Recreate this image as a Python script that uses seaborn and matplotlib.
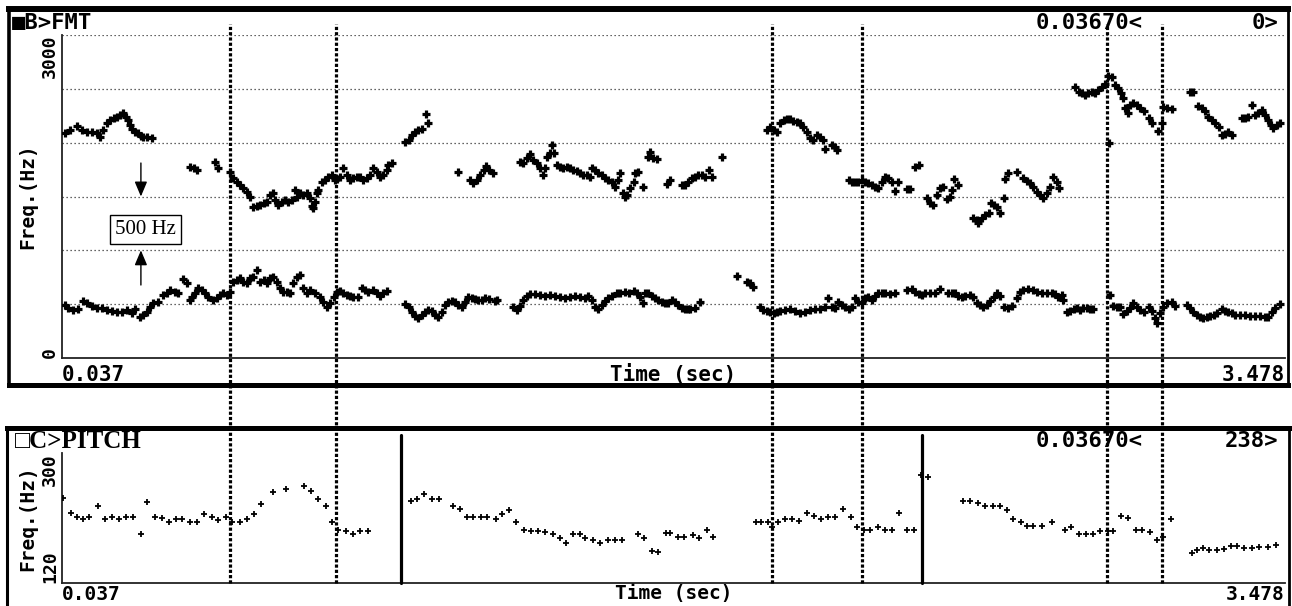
import numpy as np
import pandas as pd
import matplotlib
matplotlib.use("Agg")
import matplotlib.pyplot as plt
import seaborn as sns

# ---------------- data ----------------
time_range = (0.037, 3.478)
fmt_ylim = (0, 3000)
pitch_ylim = (120, 300)
grid_hz = [500, 1000, 1500, 2000, 2500, 3000]
cursor_times = [0.510, 0.808, 2.035, 2.288, 2.977, 3.132]
segment_times = [0.991, 2.457]

f1_time = [
    0.045, 0.055, 0.069, 0.083, 0.097, 0.106, 0.121, 0.135, 0.149, 0.163,
    0.177, 0.191, 0.205, 0.219, 0.233, 0.243, 0.257, 0.266, 0.275, 0.285,
    0.294, 0.308, 0.322, 0.332, 0.341, 0.355, 0.364, 0.378, 0.388, 0.397,
    0.402, 0.411, 0.421, 0.430, 0.439, 0.449, 0.463, 0.472, 0.482, 0.491,
    0.500, 0.510, 0.519, 0.529, 0.538, 0.547, 0.557, 0.566, 0.573, 0.585,
    0.594, 0.604, 0.613, 0.622, 0.632, 0.641, 0.650, 0.660, 0.669, 0.679,
    0.688, 0.697, 0.707, 0.716, 0.726, 0.735, 0.749, 0.763, 0.772, 0.782,
    0.791, 0.801, 0.810, 0.819, 0.829, 0.838, 0.847, 0.857, 0.871, 0.880,
    0.890, 0.899, 0.913, 0.922, 0.932, 0.941, 0.951, 1.002, 1.012, 1.021,
    1.030, 1.040, 1.049, 1.058, 1.068, 1.077, 1.087, 1.096, 1.105, 1.115,
    1.124, 1.133, 1.143, 1.152, 1.162, 1.171, 1.180, 1.190, 1.199, 1.208,
    1.218, 1.227, 1.237, 1.255, 1.260, 1.307, 1.316, 1.326, 1.335, 1.345,
    1.354, 1.368, 1.382, 1.396, 1.410, 1.424, 1.438, 1.452, 1.466, 1.481,
    1.495, 1.509, 1.518, 1.527, 1.537, 1.546, 1.556, 1.565, 1.574, 1.584,
    1.598, 1.607, 1.621, 1.631, 1.645, 1.654, 1.663, 1.671, 1.677, 1.687,
    1.696, 1.706, 1.715, 1.724, 1.734, 1.743, 1.753, 1.762, 1.771, 1.781,
    1.790, 1.799, 1.804, 1.818, 1.832, 1.935, 1.963, 1.973, 1.982, 2.001,
    2.010, 2.020, 2.029, 2.039, 2.048, 2.057, 2.071, 2.085, 2.099, 2.114,
    2.128, 2.142, 2.156, 2.170, 2.184, 2.191, 2.203, 2.212, 2.221, 2.231,
    2.240, 2.250, 2.259, 2.268, 2.278, 2.287, 2.296, 2.306, 2.315, 2.325,
    2.334, 2.343, 2.353, 2.367, 2.381, 2.414, 2.428, 2.437, 2.447, 2.456,
    2.465, 2.479, 2.493, 2.508, 2.531, 2.540, 2.550, 2.559, 2.568, 2.578,
    2.592, 2.601, 2.611, 2.620, 2.629, 2.639, 2.648, 2.658, 2.667, 2.676,
    2.686, 2.700, 2.709, 2.723, 2.733, 2.742, 2.756, 2.770, 2.779, 2.793,
    2.808, 2.822, 2.831, 2.840, 2.850, 2.854, 2.864, 2.873, 2.883, 2.892,
    2.901, 2.911, 2.920, 2.929, 2.939, 2.986, 2.995, 3.005, 3.014, 3.023,
    3.033, 3.042, 3.051, 3.061, 3.070, 3.080, 3.094, 3.103, 3.111, 3.117,
    3.126, 3.136, 3.145, 3.159, 3.169, 3.201, 3.211, 3.220, 3.230, 3.239,
    3.248, 3.258, 3.267, 3.277, 3.286, 3.300, 3.309, 3.319, 3.328, 3.337,
    3.352, 3.366, 3.380, 3.394, 3.408, 3.422, 3.431, 3.441, 3.450, 3.464,
]
f1_hz = [
    492, 461, 446, 452, 532, 514, 483, 461, 461, 446,
    440, 430, 430, 446, 415, 452, 384, 399, 430, 477,
    508, 523, 585, 601, 632, 616, 601, 731, 693, 539,
    570, 601, 647, 632, 601, 570, 539, 554, 585, 601,
    585, 616, 709, 724, 740, 709, 693, 740, 755, 817,
    709, 724, 693, 740, 755, 709, 647, 616, 616, 601,
    693, 755, 771, 647, 601, 632, 601, 570, 523, 477,
    508, 570, 616, 625, 601, 585, 576, 570, 570, 647,
    632, 616, 632, 601, 576, 601, 625, 502, 477, 430,
    390, 368, 399, 430, 446, 440, 399, 378, 430, 492,
    523, 532, 523, 492, 477, 523, 570, 554, 545, 539,
    539, 554, 545, 532, 539, 471, 446, 483, 539, 576,
    594, 594, 585, 576, 585, 576, 570, 554, 570, 576,
    563, 554, 576, 539, 477, 452, 492, 532, 554, 576,
    607, 601, 616, 607, 622, 601, 570, 514, 601, 601,
    576, 554, 539, 523, 514, 508, 539, 523, 492, 461,
    452, 452, 452, 461, 523, 762, 709, 700, 663, 477,
    446, 440, 430, 415, 430, 440, 446, 452, 440, 421,
    430, 446, 452, 452, 477, 554, 477, 461, 523, 492,
    477, 452, 477, 554, 523, 508, 554, 570, 539, 576,
    601, 607, 601, 594, 601, 632, 638, 616, 594, 585,
    607, 601, 607, 638, 607, 601, 601, 576, 563, 576,
    585, 570, 508, 492, 477, 492, 532, 570, 607, 576,
    477, 461, 483, 554, 616, 632, 638, 632, 616, 607,
    601, 601, 595, 564, 585, 539, 431, 440, 452, 461,
    446, 461, 461, 452, 452, 585, 483, 477, 471, 409,
    440, 461, 514, 477, 446, 431, 477, 440, 369, 328,
    415, 477, 508, 523, 483, 492, 461, 431, 400, 378,
    369, 384, 390, 400, 421, 452, 440, 431, 415, 400,
    400, 400, 390, 390, 390, 384, 384, 431, 461, 502,
]

f2_time = [
    0.397, 0.407, 0.416, 0.468, 0.475, 0.510, 0.519, 0.529, 0.538, 0.547,
    0.557, 0.566, 0.575, 0.585, 0.594, 0.604, 0.613, 0.622, 0.632, 0.636,
    0.646, 0.655, 0.665, 0.674, 0.683, 0.693, 0.697, 0.707, 0.716, 0.726,
    0.735, 0.740, 0.744, 0.749, 0.754, 0.758, 0.768, 0.777, 0.786, 0.796,
    0.805, 0.810, 0.819, 0.829, 0.838, 0.847, 0.857, 0.866, 0.876, 0.885,
    0.894, 0.904, 0.913, 0.922, 0.932, 0.941, 0.951, 0.955, 0.965, 1.152,
    1.185, 1.194, 1.204, 1.213, 1.223, 1.230, 1.239, 1.249, 1.326, 1.335,
    1.345, 1.354, 1.363, 1.373, 1.382, 1.390, 1.396, 1.401, 1.410, 1.415,
    1.421, 1.429, 1.438, 1.448, 1.457, 1.466, 1.476, 1.485, 1.495, 1.504,
    1.513, 1.523, 1.527, 1.537, 1.546, 1.556, 1.565, 1.574, 1.584, 1.593,
    1.600, 1.607, 1.615, 1.621, 1.626, 1.635, 1.645, 1.649, 1.659, 1.671,
    1.687, 1.692, 1.701, 1.710, 1.738, 1.748, 1.781, 1.790, 1.799, 1.809,
    1.818, 1.827, 1.837, 1.846, 1.856, 1.865, 1.893, 2.250, 2.259, 2.268,
    2.278, 2.287, 2.296, 2.306, 2.315, 2.325, 2.334, 2.343, 2.353, 2.362,
    2.372, 2.381, 2.390, 2.414, 2.423, 2.437, 2.447, 2.470, 2.479, 2.489,
    2.498, 2.508, 2.517, 2.526, 2.536, 2.540, 2.548, 2.557, 2.601, 2.611,
    2.615, 2.625, 2.634, 2.644, 2.651, 2.660, 2.667, 2.676, 2.686, 2.689,
    2.700, 2.723, 2.742, 2.751, 2.761, 2.770, 2.779, 2.789, 2.798, 2.808,
    2.817, 2.826, 2.836, 2.842,
]
f2_hz = [
    1777, 1762, 1746, 1823, 1762, 1731, 1669, 1638, 1607, 1576,
    1545, 1498, 1406, 1412, 1421, 1437, 1452, 1514, 1529, 1467,
    1421, 1452, 1467, 1452, 1467, 1560, 1498, 1529, 1514, 1529,
    1483, 1412, 1390, 1452, 1529, 1560, 1638, 1653, 1684, 1700,
    1653, 1660, 1684, 1762, 1700, 1653, 1669, 1684, 1684, 1653,
    1669, 1700, 1762, 1731, 1684, 1700, 1746, 1793, 1808, 1731,
    1653, 1622, 1653, 1700, 1746, 1783, 1746, 1715, 1823, 1814,
    1854, 1895, 1839, 1814, 1762, 1700, 1762, 1864, 1901, 1978,
    1901, 1793, 1771, 1762, 1771, 1762, 1746, 1740, 1715, 1700,
    1700, 1684, 1762, 1746, 1715, 1700, 1669, 1653, 1638, 1591,
    1653, 1715, 1529, 1498, 1514, 1576, 1638, 1715, 1731, 1585,
    1870, 1916, 1854, 1845, 1616, 1653, 1607, 1607, 1638, 1669,
    1684, 1700, 1700, 1684, 1746, 1684, 1864, 1653, 1638, 1638,
    1638, 1653, 1638, 1622, 1607, 1591, 1576, 1638, 1684, 1669,
    1638, 1554, 1638, 1567, 1567, 1777, 1793, 1483, 1437, 1421,
    1514, 1576, 1591, 1474, 1498, 1560, 1659, 1607, 1297, 1282,
    1257, 1297, 1328, 1344, 1437, 1421, 1399, 1344, 1483, 1659,
    1715, 1731, 1669, 1647, 1622, 1592, 1545, 1514, 1483, 1530,
    1592, 1684, 1638, 1576,
]

f3_time = [
    0.045, 0.060, 0.078, 0.092, 0.106, 0.121, 0.135, 0.144, 0.153, 0.163,
    0.172, 0.182, 0.191, 0.200, 0.210, 0.216, 0.224, 0.228, 0.235, 0.243,
    0.252, 0.259, 0.266, 0.275, 0.289, 1.002, 1.012, 1.021, 1.030, 1.040,
    1.049, 1.061, 1.068, 2.020, 2.029, 2.039, 2.048, 2.057, 2.067, 2.076,
    2.085, 2.095, 2.104, 2.114, 2.123, 2.132, 2.142, 2.151, 2.160, 2.170,
    2.179, 2.184, 2.203, 2.212, 2.217, 2.887, 2.897, 2.906, 2.915, 2.925,
    2.934, 2.944, 2.953, 2.962, 2.972, 2.981, 2.984, 2.990, 3.000, 3.009,
    3.017, 3.023, 3.028, 3.035, 3.042, 3.051, 3.061, 3.070, 3.080, 3.094,
    3.103, 3.122, 3.131, 3.136, 3.145, 3.159, 3.211, 3.220, 3.234, 3.244,
    3.253, 3.262, 3.272, 3.281, 3.291, 3.300, 3.309, 3.319, 3.330, 3.356,
    3.366, 3.375, 3.386, 3.394, 3.403, 3.412, 3.422, 3.431, 3.439, 3.445,
    3.455, 3.464,
]
f3_hz = [
    2087, 2118, 2155, 2118, 2102, 2102, 2087, 2056, 2118, 2180,
    2211, 2226, 2235, 2257, 2272, 2241, 2211, 2164, 2124, 2102,
    2087, 2062, 2050, 2050, 2040, 2009, 2025, 2071, 2102, 2118,
    2124, 2266, 2180, 2118, 2149, 2118, 2102, 2186, 2211, 2217,
    2217, 2204, 2195, 2180, 2149, 2102, 2040, 2025, 2071, 2056,
    2025, 1938, 1978, 1963, 1932, 2520, 2474, 2465, 2443, 2465,
    2474, 2465, 2489, 2520, 2545, 2619, 2000, 2613, 2536, 2505,
    2465, 2412, 2319, 2273, 2350, 2366, 2350, 2319, 2297, 2226,
    2180, 2112, 2186, 2335, 2319, 2310, 2474, 2474, 2341, 2319,
    2297, 2242, 2211, 2180, 2149, 2071, 2081, 2102, 2071, 2226,
    2226, 2242, 2350, 2257, 2273, 2304, 2257, 2211, 2164, 2133,
    2164, 2180,
]

pitch_time = [
    0.040, 0.063, 0.079, 0.096, 0.114, 0.139, 0.158, 0.178, 0.198, 0.216,
    0.236, 0.260, 0.277, 0.298, 0.318, 0.339, 0.359, 0.376, 0.397, 0.417,
    0.437, 0.458, 0.476, 0.499, 0.516, 0.537, 0.557, 0.577, 0.596, 0.631,
    0.668, 0.717, 0.738, 0.757, 0.779, 0.797, 0.814, 0.837, 0.855, 0.876,
    0.898, 1.018, 1.036, 1.056, 1.077, 1.097, 1.138, 1.156, 1.176, 1.194,
    1.215, 1.234, 1.258, 1.275, 1.295, 1.313, 1.336, 1.357, 1.377, 1.396,
    1.418, 1.439, 1.456, 1.474, 1.494, 1.509, 1.532, 1.550, 1.573, 1.593,
    1.614, 1.657, 1.674, 1.696, 1.713, 1.736, 1.748, 1.769, 1.787, 1.811,
    1.828, 1.852, 1.869, 1.991, 2.005, 2.022, 2.034, 2.052, 2.072, 2.090,
    2.111, 2.134, 2.152, 2.172, 2.191, 2.211, 2.234, 2.256, 2.273, 2.293,
    2.311, 2.332, 2.352, 2.372, 2.393, 2.414, 2.434, 2.454, 2.473, 2.573,
    2.593, 2.615, 2.635, 2.656, 2.676, 2.697, 2.713, 2.735, 2.752, 2.770,
    2.793, 2.823, 2.858, 2.876, 2.897, 2.917, 2.937, 2.958, 2.979, 2.994,
    3.017, 3.035, 3.058, 3.076, 3.097, 3.117, 3.135, 3.156, 3.215, 3.229,
    3.247, 3.264, 3.286, 3.306, 3.326, 3.344, 3.364, 3.384, 3.406, 3.429,
    3.453,
]
pitch_hz = [
    238, 217, 211, 209, 212, 226, 209, 212, 209, 211,
    212, 188, 232, 212, 210, 204, 208, 208, 204, 204,
    216, 212, 207, 212, 204, 204, 208, 216, 230, 246,
    250, 255, 247, 237, 226, 204, 194, 192, 188, 192,
    192, 233, 236, 243, 236, 236, 226, 222, 212, 212,
    212, 212, 208, 216, 221, 204, 193, 192, 192, 191,
    188, 182, 175, 188, 188, 182, 180, 175, 180, 180,
    180, 188, 182, 165, 163, 189, 189, 184, 184, 186,
    182, 194, 184, 204, 204, 204, 198, 204, 208, 208,
    206, 217, 213, 208, 212, 212, 222, 211, 198, 194,
    194, 197, 194, 194, 217, 194, 194, 270, 267, 233,
    233, 231, 227, 226, 226, 221, 208, 204, 199, 199,
    199, 204, 194, 197, 188, 188, 188, 192, 192, 192,
    213, 210, 194, 194, 191, 180, 184, 208, 162, 166,
    168, 166, 166, 167, 171, 171, 169, 168, 170, 170,
    173,
]

fmt_title = "\u25a0B>FMT"
pitch_title = "\u25a1C>PITCH"
cursor_text = "0.03670<"
fmt_cursor_value = "0>"
pitch_cursor_value = "238>"
x_label = "Time (sec)"
y_label = "Freq.(Hz)"
scale_note = "500 Hz"
note_time, note_hz = 0.272, 1193
arrow_time = 0.259
arrow_down = (1811, 1500)
arrow_up = (678, 1000)

# ---------------- figure ----------------
sns.set_style("white")
MONO = ["DejaVu Sans Mono", "DejaVu Sans"]
SERIF = ["Liberation Serif", "DejaVu Serif", "DejaVu Sans"]
plt.rcParams["font.family"] = MONO
plt.rcParams["font.weight"] = "bold"
for key in ("text.color", "axes.labelcolor", "xtick.color", "ytick.color",
            "axes.edgecolor"):
    plt.rcParams[key] = "black"

W, H = 1292, 606


def rect(x0, y0, x1, y1):
    return [x0 / W, 1 - y1 / H, (x1 - x0) / W, (y1 - y0) / H]


fig = plt.figure(figsize=(W / 100, H / 100), dpi=100)
fig.patch.set_facecolor("white")

# panel frames
frame1 = fig.add_axes(rect(9, 9, 1288, 385), zorder=0)
frame2 = fig.add_axes(rect(7, 428, 1289, 680), zorder=0)
for fr, lw in ((frame1, dict(top=4.3, bottom=3.6, left=2.6, right=2.0)),
               (frame2, dict(top=3.6, bottom=3.0, left=2.2, right=2.0))):
    fr.set_xticks([])
    fr.set_yticks([])
    fr.set_facecolor("none")
    for side, w in lw.items():
        fr.spines[side].set_linewidth(w)
        fr.spines[side].set_color("black")

ax1 = fig.add_axes(rect(62, 35, 1285, 358), zorder=3)
ax2 = fig.add_axes(rect(62, 453, 1285, 583), zorder=2)

fmt_df = pd.DataFrame({
    "time": f1_time + f2_time + f3_time,
    "hz": f1_hz + f2_hz + f3_hz,
    "formant": ["F1"] * len(f1_time) + ["F2"] * len(f2_time) + ["F3"] * len(f3_time),
})
pitch_df = pd.DataFrame({"time": pitch_time, "hz": pitch_hz})

sns.scatterplot(data=fmt_df, x="time", y="hz", marker="+", color="black",
                s=30, linewidth=2.3, legend=False, ax=ax1, zorder=4)
sns.scatterplot(data=pitch_df, x="time", y="hz", marker="+", color="black",
                s=22, linewidth=1.3, legend=False, ax=ax2, zorder=4)

TICK_FS = 14
panels = ((ax1, fmt_ylim, [0, 3000], ["0", "3000"], TICK_FS + 1),
          (ax2, pitch_ylim, [120, 300], ["120", "300"], TICK_FS))
for ax, ylim, yt, ylab, xfs in panels:
    ax.set_facecolor("none")
    ax.set_xlim(*time_range)
    ax.set_ylim(*ylim)
    for side in ("top", "right"):
        ax.spines[side].set_visible(False)
    for side in ("left", "bottom"):
        ax.spines[side].set_linewidth(1.3)
        ax.spines[side].set_color("#222222")
    ax.set_xticks(list(time_range))
    ax.set_xticklabels([f"{time_range[0]:.3f}", f"{time_range[1]:.3f}"],
                       fontsize=xfs, fontweight="bold")
    xl = ax.get_xticklabels()
    xl[0].set_ha("left")
    xl[1].set_ha("right")
    ax.set_yticks(yt)
    ax.set_yticklabels(ylab, rotation=90, fontsize=TICK_FS - 1, fontweight="bold")
    yl = ax.get_yticklabels()
    yl[0].set_va("bottom")
    yl[1].set_va("top")
    ax.tick_params(axis="both", length=0)
    ax.tick_params(axis="y", pad=2)
    ax.set_xlabel(x_label, fontsize=xfs, fontweight="bold", va="center")
    ax.set_ylabel(y_label, fontsize=TICK_FS, fontweight="bold", va="center")

ax1.tick_params(axis="x", pad=5)
ax1.xaxis.set_label_coords(0.5, (358 - 375) / 323)
ax1.yaxis.set_label_coords((28 - 62) / 1223, 0.5)
ax2.tick_params(axis="x", pad=1.5)
ax2.xaxis.set_label_coords(0.5, (583 - 594) / 130)
ax2.yaxis.set_label_coords((28 - 62) / 1223, 0.5)

# dotted frequency grid
for g in grid_hz:
    ax1.axhline(g, color="#333333", lw=0.9, ls=(0, (1, 2.2)), zorder=1)

# cursor lines spanning both panels
for t in cursor_times:
    ax1.axvline(t, ymin=(358 - 583) / 323, ymax=1 + 11 / 323, color="black",
                lw=2.3, ls=(0, (1.0, 0.65)), clip_on=False, zorder=6)
for t in segment_times:
    ax2.axvline(t, ymin=0, ymax=1 + 18 / 130, color="black", lw=2.3,
                clip_on=False, zorder=5)

# 500 Hz scale annotation
arrow_kw = dict(arrowstyle="-|>,head_length=0.9,head_width=0.38",
                color="black", lw=1.0, shrinkA=0, shrinkB=0)
ax1.annotate("", xy=(arrow_time, arrow_down[1]), xytext=(arrow_time, arrow_down[0]),
             arrowprops=arrow_kw)
ax1.annotate("", xy=(arrow_time, arrow_up[1]), xytext=(arrow_time, arrow_up[0]),
             arrowprops=arrow_kw)
ax1.text(note_time, note_hz, scale_note, family=SERIF, fontsize=15,
         fontweight="normal", ha="center", va="center", zorder=7,
         bbox=dict(boxstyle="square,pad=0.25", fc="white", ec="black", lw=1.0))

# header texts
fig.text(12 / W, 1 - 23 / H, fmt_title, fontsize=16, fontweight="bold",
         family=MONO, ha="left", va="center")
fig.text(1036 / W, 1 - 23 / H, cursor_text, fontsize=16, fontweight="bold",
         family=MONO, ha="left", va="center")
fig.text(1278 / W, 1 - 23 / H, fmt_cursor_value, fontsize=16, fontweight="bold",
         family=MONO, ha="right", va="center")
fig.text(15 / W, 1 - 441 / H, pitch_title, fontsize=18, fontweight="bold",
         family=SERIF, ha="left", va="center")
fig.text(1036 / W, 1 - 441 / H, cursor_text, fontsize=16, fontweight="bold",
         family=MONO, ha="left", va="center")
fig.text(1278 / W, 1 - 441 / H, pitch_cursor_value, fontsize=16, fontweight="bold",
         family=MONO, ha="right", va="center")

fig.savefig("out.png", dpi=100, facecolor="white")
